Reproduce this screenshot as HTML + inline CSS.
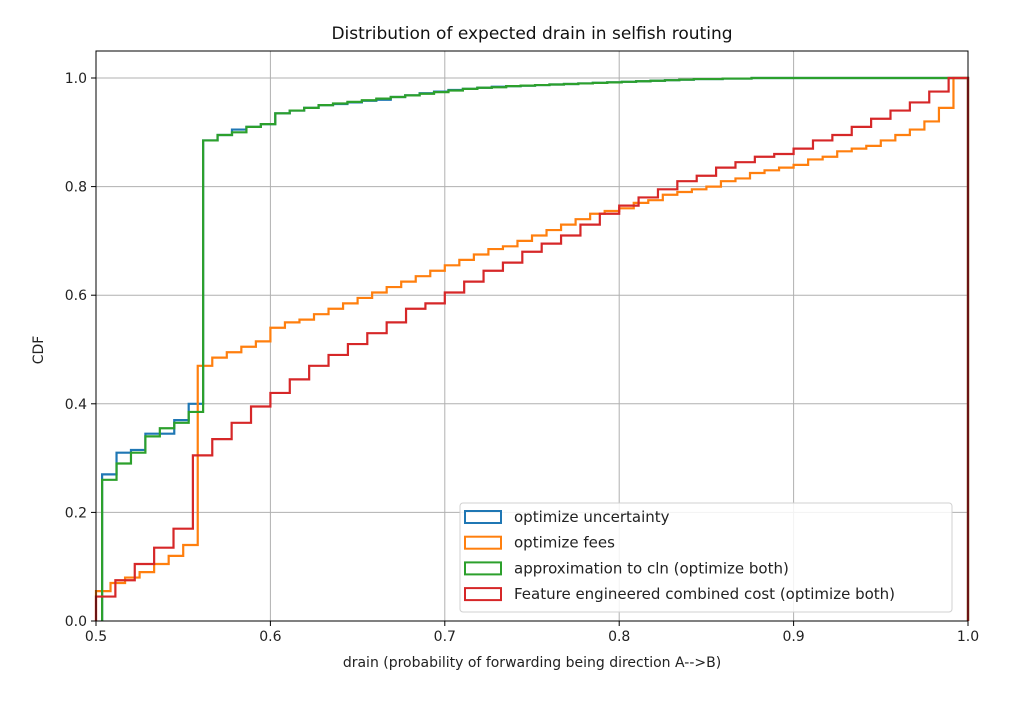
<!DOCTYPE html>
<html><head><meta charset="utf-8"><style>
body{margin:0;background:#fff;}
svg{display:block;font-family:"DejaVu Sans","Liberation Sans",sans-serif;}
</style></head><body>
<svg id="chart" width="1024" height="705" viewBox="0 0 1024 705" xmlns="http://www.w3.org/2000/svg">
<rect width="1024" height="705" fill="#fff"/>
<g id="grid"></g>
<g id="series"></g>
<rect x="96" y="51" width="872" height="570" fill="none" stroke="#000" stroke-width="1"/>
<g id="ticks" font-size="14" fill="#222"></g>
<text x="532" y="39" text-anchor="middle" font-size="17" fill="#111">Distribution of expected drain in selfish routing</text>
<text x="532" y="667" text-anchor="middle" font-size="14" fill="#222">drain (probability of forwarding being direction A--&gt;B)</text>
<text transform="translate(43,350) rotate(-90)" text-anchor="middle" font-size="14" fill="#222">CDF</text>
<g id="legend"></g>
</svg>
<script>
const xTicks = [0.5, 0.6, 0.7, 0.8, 0.9, 1.0];
const xTickLabels = ["0.5", "0.6", "0.7", "0.8", "0.9", "1.0"];
const yTicks = [0, 0.2, 0.4, 0.6, 0.8, 1.0];
const yTickLabels = ["0.0", "0.2", "0.4", "0.6", "0.8", "1.0"];
const seriesNames = ["optimize uncertainty", "optimize fees", "approximation to cln (optimize both)", "Feature engineered combined cost (optimize both)"];
const seriesColors = ["#1f77b4", "#ff7f0e", "#2ca02c", "#d62728"];
const binStart = [0.5035, 0.5, 0.5035, 0.5];
const binEnd = [1.0, 1.0, 1.0, 1.0];
const blueCdf = [0.27,0.31,0.315,0.345,0.345,0.37,0.40,0.885,0.895,0.905,0.91,0.915,0.935,0.94,0.945,0.95,0.952,0.955,0.958,0.96,0.965,0.968,0.972,0.975,0.978,0.98,0.982,0.984,0.985,0.986,0.987,0.988,0.989,0.99,0.991,0.992,0.993,0.994,0.995,0.996,0.997,0.998,0.998,0.999,0.999,1,1,1,1,1,1,1,1,1,1,1,1,1,1,1];
const orangeCdf = [0.055,0.07,0.08,0.09,0.105,0.12,0.14,0.47,0.485,0.495,0.505,0.515,0.54,0.55,0.555,0.565,0.575,0.585,0.595,0.605,0.615,0.625,0.635,0.645,0.655,0.665,0.675,0.685,0.69,0.70,0.71,0.72,0.73,0.74,0.75,0.755,0.76,0.77,0.775,0.785,0.79,0.795,0.80,0.81,0.815,0.825,0.83,0.835,0.84,0.85,0.855,0.865,0.87,0.875,0.885,0.895,0.905,0.92,0.945,1.0];
const greenCdf = [0.26,0.29,0.31,0.34,0.355,0.365,0.385,0.885,0.895,0.90,0.91,0.915,0.935,0.94,0.945,0.95,0.953,0.956,0.959,0.962,0.965,0.968,0.971,0.974,0.977,0.98,0.982,0.983,0.985,0.986,0.987,0.988,0.989,0.99,0.991,0.992,0.993,0.994,0.995,0.996,0.997,0.998,0.998,0.999,0.999,1,1,1,1,1,1,1,1,1,1,1,1,1,1,1];
const redCdf = [0.045,0.075,0.105,0.135,0.17,0.305,0.335,0.365,0.395,0.42,0.445,0.47,0.49,0.51,0.53,0.55,0.575,0.585,0.605,0.625,0.645,0.66,0.68,0.695,0.71,0.73,0.75,0.765,0.78,0.795,0.81,0.82,0.835,0.845,0.855,0.86,0.87,0.885,0.895,0.91,0.925,0.94,0.955,0.975,1.0];
const allCdf = [blueCdf, orangeCdf, greenCdf, redCdf];

const X0=96, X1=968, Y0=621, Y1=78;
const xs = v => X0 + (v-0.5)/(1.0-0.5)*(X1-X0);
const ys = v => Y0 - v*(Y0-Y1);
const NS="http://www.w3.org/2000/svg";
function mk(tag, attrs, parent){const e=document.createElementNS(NS,tag);for(const k in attrs)e.setAttribute(k,attrs[k]);parent.appendChild(e);return e;}
const grid=document.getElementById('grid'), ticks=document.getElementById('ticks');
xTicks.forEach((t,i)=>{
  const l=mk('line',{x1:xs(t),x2:xs(t),y1:51,y2:621,stroke:'#b0b0b0','stroke-width':1},grid);
  
  
  const tk=mk('line',{x1:xs(t),x2:xs(t),y1:621,y2:626,stroke:'#000'},ticks);
  
  
  const tx=mk('text',{x:xs(t),y:641,'text-anchor':'middle'},ticks);
  tx.textContent=xTickLabels[i];
  
  
});
yTicks.forEach((t,i)=>{
  const l=mk('line',{x1:96,x2:968,y1:ys(t),y2:ys(t),stroke:'#b0b0b0','stroke-width':1},grid);
  
  
  const tk=mk('line',{x1:91,x2:96,y1:ys(t),y2:ys(t),stroke:'#000'},ticks);
  
  
  const tx=mk('text',{x:87,y:ys(t)+5,'text-anchor':'end'},ticks);
  tx.textContent=yTickLabels[i];
  
  
});
const sg=document.getElementById('series');
allCdf.forEach((vals,si)=>{
  const n=vals.length, w=(binEnd[si]-binStart[si])/n;
  let d='M'+xs(binStart[si])+','+ys(0);
  vals.forEach((v,k)=>{
    const a=binStart[si]+k*w, b=a+w;
    d+=' L'+xs(a)+','+ys(v)+' L'+xs(b)+','+ys(v);
  });
  d+=' L'+xs(binEnd[si])+','+ys(0);
  const p=mk('path',{d:d,fill:'none',stroke:seriesColors[si],'stroke-width':2.2,'stroke-linejoin':'miter'},sg);
  
  
});
const lg=document.getElementById('legend');
const box=mk('rect',{x:460,y:503,width:492,height:109,rx:3,fill:'#fff','fill-opacity':0.85,stroke:'#d0d0d0'},lg);


seriesNames.forEach((nm,i)=>{
  const cy=517+i*25.7;
  const r=mk('rect',{x:465,y:cy-6,width:36,height:12,fill:'none',stroke:seriesColors[i],'stroke-width':2},lg);
  
  
  const t=mk('text',{x:514,y:cy+5,'font-size':15,fill:'#222'},lg);
  t.textContent=nm;
  
  
});
</script>
</body></html>
